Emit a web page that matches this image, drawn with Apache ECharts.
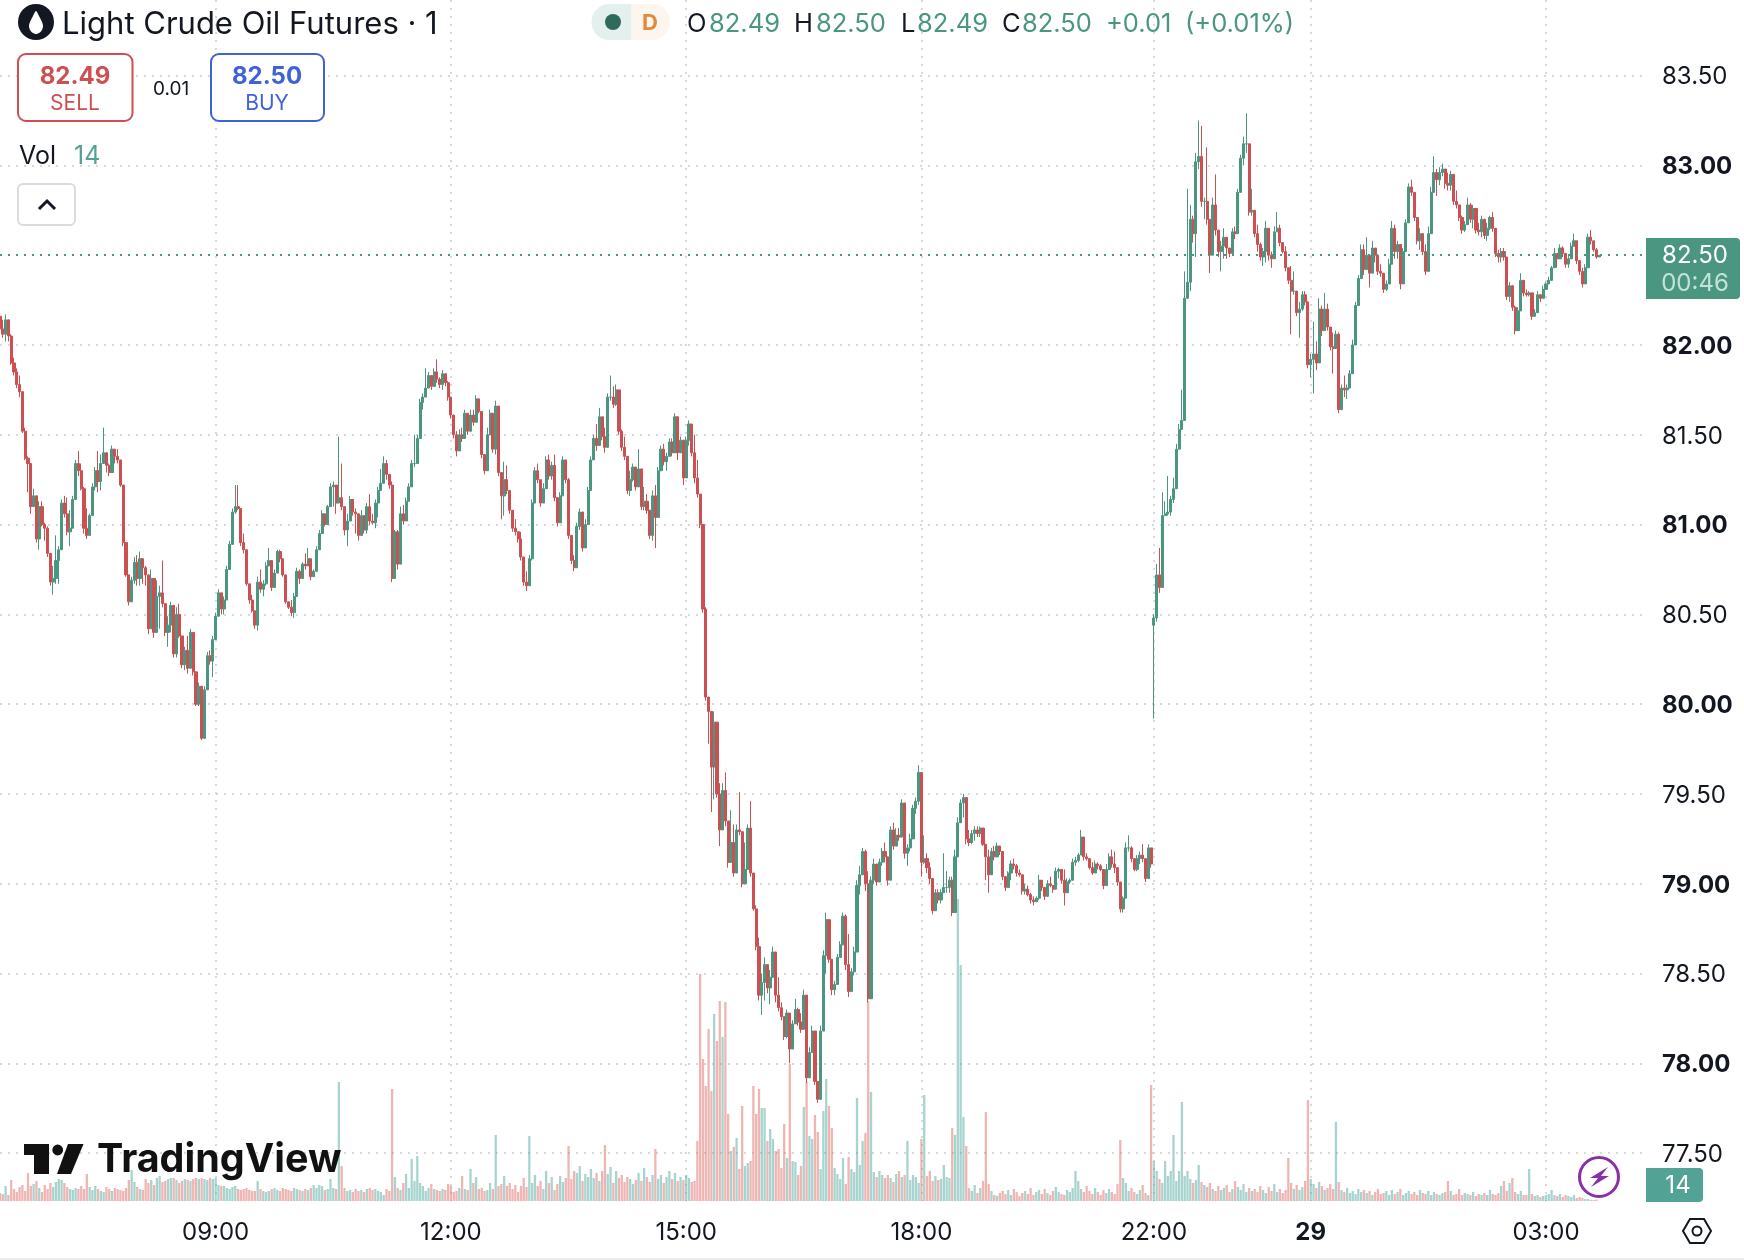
<!DOCTYPE html>
<html><head><meta charset="utf-8">
<script src="https://cdn.jsdelivr.net/npm/echarts@6/dist/echarts.min.js"></script>
<style>html,body{margin:0;padding:0;background:#fff}#c{width:1744px;height:1260px}</style></head>
<body><div id="c"></div>
<script>
const tickLabels=['09:00','12:00','15:00','18:00','22:00','29','03:00'];
const tickBars=[77,161,245,329,412,468,552];
const slotCount=588;
const sessionReopenBar=412, sessionReopenCents=8044;
const highsCents=[
8216,8214,8217,8208,8206,8193,8187,8183,8173,8154,8138,8134,8120,8102,8113,8113,8101,8099,8080,8077,
8094,8088,8114,8116,8115,8108,8116,8136,8141,8134,8121,8109,8106,8123,8132,8141,8139,8154,8139,8134,
8144,8142,8142,8134,8121,8086,8071,8071,8082,8083,8085,8079,8077,8062,8075,8057,8069,8066,8080,8054,
8049,8057,8052,8054,8056,8032,8032,8038,8042,8026,8012,8012,8009,8010,8029,8030,8038,8051,8064,8062,
8060,8077,8091,8109,8122,8122,8101,8095,8079,8066,8061,8052,8071,8075,8069,8079,8087,8073,8075,8086,
8086,8077,8072,8057,8058,8062,8076,8075,8079,8084,8087,8080,8075,8088,8097,8108,8106,8111,8123,8124,
8120,8149,
8134,8110,8106,8116,8113,8109,8106,8108,8102,8112,8117,8106,8114,8121,8131,8138,8136,8128,8124,8097,
8097,8110,8111,8115,8123,8136,8150,8150,8170,8173,8187,8185,8183,8187,8192,8182,8186,8184,8180,8170,
8159,8152,8153,8154,8164,8154,8164,8164,8172,8166,8162,8138,8154,8164,8154,8169,8139,8120,8135,8133,
8117,8107,8103,8094,8096,8080,8074,8083,8114,8132,8134,8125,8123,8138,8139,8135,8139,8112,8118,8138,
8133,8126,8085,8083,8101,8109,8103,8103,8121,8138,8150,8156,8165,8156,8154,8173,8183,8177,8178,8165,
8153,8149,8136,8130,8134,8130,8142,8129,8121,8117,8105,8119,8122,8132,8144,8145,8140,8148,8148,8162,
8159,8149,8140,8149,8158,8146,8150,8136,8115,8098,
8054,
7998,7983,7996,7981,7956,7956,7962,7934,7941,7933,7933,7951,7928,7923,7933,7946,7904,7888,7870,7850,
7859,7850,7852,7865,7854,7848,7834,7825,7830,7824,7824,7836,7831,7828,7841,7813,7809,7821,7800,7789,
7821,7863,7884,7869,7856,7846,7861,7868,7884,7883,7872,7853,7865,7902,7910,7920,7919,7907,7904,7914,
7908,7914,7920,7923,7915,7932,7934,7931,7931,7947,7937,7922,7928,7944,7948,7966,7956,7927,7917,7912,
7901,7897,7897,7897,7917,7907,7904,7904,7919,7937,7947,7950,7938,7930,7930,7932,7932,7932,7926,7921,
7919,7920,7921,7923,7921,7916,7903,7907,7913,7914,7911,7908,7904,7900,7899,7895,7893,7893,7905,7900,
7896,7902,7904,7898,7909,7909,7908,7908,7903,7903,7914,7915,7917,7930,7920,7917,7913,7912,7913,7912,
7911,7904,7911,7917,7919,7918,7907,7900,7893,7923,7927,7921,7911,7916,7918,7922,7908,7922,7914,
8050,8078,8087,8118,8113,8127,8116,8126,8145,8156,8175,8241,8287,8278,8272,8307,8325,8322,8282,8310,
8270,8282,8295,8260,8258,8265,8257,8254,8265,8266,8287,8306,8316,8329,8291,8287,8271,8267,8257,8254,
8269,8262,8252,8266,8274,8267,8256,8255,8240,8244,8241,8228,8224,8230,8230,8223,8195,8213,8202,8226,
8222,8229,8223,8208,8207,8208,8207,8178,8183,8178,8186,8203,8224,8239,8256,8256,8260,8244,8258,8252,
8250,8245,8235,8236,8248,8269,8267,8258,
8248,8254,8270,8290,8292,8285,8268,8265,8261,8256,8266,8288,8305,8298,8299,8301,8297,8296,8297,8291,
8286,8278,8272,8269,8282,8279,8278,8272,8268,8272,8267,8268,8272,8274,8260,8253,8254,8254,8248,8235,
8230,8222,8221,8240,8233,8231,8230,8225,8220,8230,8228,8233,8235,8238,8244,8254,8251,8256,8255,8250,
8250,8257,8262,8254,8246,8243,8245,8262,8264,8256,8254,8250];
const lowsCents=[
8208,8204,8202,8202,8189,8183,8176,8171,8151,8136,8118,8106,8112,8090,8086,8099,8091,8082,8066,8061,
8067,8067,8099,8104,8094,8088,8099,8117,8127,8119,8095,8092,8096,8106,8119,8118,8119,8134,8129,8127,
8136,8134,8134,8121,8088,8071,8055,8062,8067,8066,8066,8067,8066,8039,8056,8037,8047,8042,8054,8038,
8032,8040,8026,8026,8037,8020,8019,8017,8023,8016,7999,7999,7980,7993,8016,8022,8015,8036,8056,8050,
8050,8069,8079,8091,8106,8108,8088,8084,8066,8056,8051,8042,8041,8062,8060,8066,8077,8063,8066,8077,
8079,8071,8056,8053,8049,8048,8062,8067,8074,8075,8079,8069,8071,8077,8090,8101,8099,8106,8114,8110,
8106,8112,
8108,8094,8088,8106,8105,8095,8091,8095,8095,8095,8100,8100,8098,8104,8120,8132,8125,8120,8068,8080,
8075,8093,8100,8106,8114,8124,8132,8139,8155,8164,8173,8179,8175,8180,8179,8176,8175,8177,8169,8159,
8148,8138,8144,8146,8152,8150,8154,8155,8162,8162,8137,8128,8138,8150,8140,8139,8127,8103,8105,8117,
8106,8096,8094,8090,8080,8066,8063,8076,8080,8116,8123,8110,8112,8126,8125,8125,8113,8099,8106,8128,
8123,8092,8078,8074,8090,8097,8085,8090,8103,8121,8138,8141,8150,8147,8140,8160,8169,8165,8166,8150,
8141,8136,8117,8116,8124,8119,8129,8108,8108,8106,8092,8091,8087,8120,8133,8133,8130,8138,8138,8147,
8136,8141,8122,8141,8144,8138,8123,8115,8098,8051,
8002,
7978,7940,7947,7948,7921,7934,7932,7909,7921,7904,7913,7927,7898,7905,7922,7904,7885,7863,7835,7827,
7835,7839,7833,7850,7834,7829,7824,7813,7814,7800,7809,7828,7821,7817,7824,7789,7796,7809,7788,7778,
7792,7828,7850,7856,7838,7838,7854,7859,7869,7852,7837,7846,7849,7869,7894,7908,7896,7834,7882,7900,
7899,7907,7910,7912,7899,7902,7919,7925,7924,7935,7914,7910,7918,7932,7939,7944,7904,7911,7906,7900,
7883,7885,7889,7889,7895,7895,7895,7882,7887,7926,7937,7937,7922,7921,7922,7924,7926,7926,7921,7902,
7895,7911,7913,7916,7916,7902,7896,7903,7902,7908,7904,7904,7894,7894,7893,7889,7888,7890,7891,7896,
7891,7896,7898,7895,7897,7903,7900,7888,7898,7900,7909,7910,7912,7916,7913,7913,7908,7905,7909,7908,
7907,7897,7902,7912,7909,7906,7899,7884,7884,7893,7918,7912,7907,7907,7911,7912,7901,7906,7909,
7992,8046,8062,8078,8105,8105,8105,8112,8125,8149,8156,8181,8228,8230,8257,8249,8298,8277,8270,8267,
8240,8257,8261,8249,8241,8248,8248,8249,8258,8259,8271,8296,8300,8307,8272,8272,8260,8252,8247,8244,
8246,8247,8243,8254,8263,8255,8251,8241,8234,8206,8228,8216,8204,8219,8222,8187,8182,8173,8186,8204,
8205,8213,8208,8197,8184,8199,8162,8167,8171,8170,8178,8189,8204,8222,8237,8239,8247,8232,8246,8246,
8239,8238,8229,8230,8237,8250,8248,8248,
8231,8238,8255,8277,8283,8269,8256,8253,8250,8239,8243,8263,8294,8283,8289,8294,8287,8286,8286,8278,
8276,8269,8262,8263,8269,8268,8265,8262,8261,8260,8259,8258,8264,8263,8249,8246,8246,8247,8225,8224,
8219,8206,8215,8223,8227,8227,8227,8214,8216,8223,8224,8228,8231,8234,8240,8243,8243,8250,8249,8243,
8243,8250,8255,8245,8239,8232,8241,8250,8256,8252,8248,8249];
const closesCents=[
8209,8206,8214,8205,8190,8185,8178,8174,8152,8137,8134,8110,8116,8092,8110,8100,8098,8084,8068,8070,
8080,8086,8112,8106,8096,8098,8114,8134,8130,8120,8098,8094,8105,8121,8130,8124,8134,8140,8133,8129,
8142,8138,8136,8122,8090,8072,8057,8069,8079,8070,8081,8076,8072,8042,8070,8040,8060,8062,8056,8040,
8044,8055,8028,8050,8038,8022,8030,8020,8040,8018,8000,8010,7981,8008,8027,8024,8036,8049,8062,8053,
8058,8075,8089,8107,8110,8109,8090,8086,8067,8058,8052,8044,8068,8064,8067,8077,8080,8065,8073,8085,
8081,8072,8057,8054,8051,8060,8074,8070,8078,8077,8081,8071,8074,8086,8095,8106,8100,8110,8121,8122,
8112,8115,
8110,8097,8102,8114,8107,8106,8094,8105,8097,8110,8102,8101,8112,8119,8123,8134,8128,8122,8070,8096,
8078,8106,8102,8113,8121,8134,8134,8148,8168,8171,8176,8183,8177,8185,8181,8178,8184,8179,8171,8161,
8150,8141,8150,8148,8162,8152,8161,8157,8170,8163,8139,8130,8150,8162,8142,8166,8129,8116,8125,8119,
8108,8098,8096,8092,8082,8068,8066,8081,8112,8130,8125,8112,8120,8136,8127,8133,8115,8101,8116,8136,
8125,8094,8080,8076,8099,8107,8087,8100,8119,8136,8148,8144,8160,8149,8143,8171,8171,8167,8175,8152,
8143,8138,8119,8125,8132,8121,8131,8110,8113,8108,8094,8116,8104,8130,8142,8135,8138,8146,8140,8160,
8140,8147,8126,8147,8156,8140,8126,8117,8100,8053,
8004,
7996,7965,7990,7950,7930,7952,7935,7912,7923,7906,7930,7929,7900,7908,7931,7906,7886,7865,7838,7845,
7855,7842,7848,7862,7838,7831,7826,7815,7828,7808,7822,7830,7823,7819,7838,7792,7806,7818,7790,7780,
7818,7860,7880,7858,7841,7844,7859,7866,7882,7855,7840,7851,7862,7899,7905,7918,7900,7836,7902,7911,
7901,7912,7918,7915,7902,7930,7921,7927,7926,7945,7917,7920,7925,7942,7946,7962,7912,7914,7909,7903,
7885,7895,7891,7895,7898,7898,7902,7884,7915,7934,7945,7948,7925,7923,7928,7930,7928,7931,7922,7915,
7905,7918,7915,7921,7918,7904,7898,7906,7911,7910,7906,7905,7896,7897,7894,7891,7890,7892,7902,7898,
7893,7900,7899,7897,7907,7908,7902,7895,7901,7902,7912,7913,7916,7926,7915,7914,7909,7906,7911,7910,
7908,7899,7908,7915,7911,7909,7901,7886,7892,7920,7920,7914,7908,7914,7916,7914,7903,7920,7911,
8048,8072,8065,8105,8106,8107,8114,8120,8142,8153,8158,8226,8235,8270,8262,8302,8305,8280,8280,8270,
8250,8278,8264,8252,8255,8260,8254,8251,8263,8262,8285,8304,8312,8312,8274,8275,8262,8256,8249,8252,
8265,8250,8248,8263,8265,8257,8252,8243,8236,8230,8230,8218,8220,8228,8224,8189,8192,8195,8190,8220,
8208,8220,8210,8199,8198,8206,8164,8176,8175,8176,8184,8200,8222,8237,8253,8242,8250,8240,8254,8250,
8241,8240,8231,8234,8245,8265,8252,8256,
8234,8252,8268,8288,8285,8271,8258,8262,8252,8241,8262,8285,8296,8292,8296,8298,8290,8289,8295,8280,
8278,8271,8264,8267,8278,8270,8276,8264,8263,8270,8261,8265,8271,8265,8251,8249,8252,8249,8227,8233,
8221,8208,8219,8236,8229,8228,8229,8216,8218,8228,8226,8231,8234,8236,8243,8251,8248,8254,8251,8245,
8248,8255,8258,8247,8241,8234,8243,8260,8258,8253,8249,8250];
const volumes=[
80,70,150,60,210,120,90,140,160,100,280,150,170,200,130,90,160,120,180,140,190,220,210,180,140,120,110,130,120,150,
120,270,140,110,150,120,100,90,140,120,100,130,120,110,100,130,210,310,190,140,120,110,220,180,210,160,230,250,190,200,
220,230,230,210,180,200,220,210,200,220,230,220,230,220,210,230,220,230,160,150,150,130,120,140,150,120,110,120,130,110,
100,100,200,120,100,90,100,120,130,110,100,130,120,110,100,130,120,110,100,120,110,130,160,130,160,150,110,120,220,130,
120,1190,350,130,100,110,90,120,100,110,90,120,130,110,120,100,90,60,120,100,1120,240,130,110,180,270,130,420,200,450,
180,150,100,130,170,120,110,100,120,110,170,150,90,100,130,250,120,110,320,180,240,120,130,100,110,180,120,660,150,
170,250,150,180,120,160,90,150,230,140,650,180,260,150,200,120,300,180,240,110,170,250,190,230,550,220,300,280,350,200,
270,240,320,230,280,200,300,560,270,340,180,300,230,260,190,240,220,170,210,280,200,330,240,190,260,520,220,260,180,240,
300,220,280,200,240,210,260,230,190,200,600,2270,1420,1150,1720,1100,1870,1600,2000,1640,1990,870,500,540,630,320,950,350,380,400,
1150,870,1120,930,930,600,720,620,500,520,330,770,430,1370,400,390,260,350,940,1190,650,620,860,690,320,900,1220,950,730,330,
270,220,430,170,440,320,290,1030,360,600,680,2000,1090,
290,240,300,260,230,260,230,190,270,300,240,260,600,210,260,240,180,620,1060,250,300,200,250,210,220,360,240,230,730,660,
3020,2360,840,550,130,100,160,80,130,200,890,170,100,60,50,80,
100,70,110,60,120,90,50,80,100,70,130,60,90,110,70,120,80,60,100,140,90,70,60,110,90,130,300,200,120,90,150,100,70,130,90,60,
110,80,120,90,70,170,610,230,180,100,130,90,70,110,160,80,60,
1160,400,300,220,180,400,250,300,660,200,300,990,250,300,220,180,210,360,190,160,
140,180,120,100,150,110,130,160,90,120,200,140,110,170,90,130,100,120,90,150,110,80,140,100,170,90,120,80,110,
430,180,120,160,110,140,200,1010,220,170,130,190,150,110,130,170,120,790,190,
110,90,130,80,100,70,120,90,110,80,100,60,90,120,70,80,100,60,110,70,90,120,60,80,100,70,90,60,110,80,70,100,60,90,70,60,80,90,
200,100,60,70,120,60,80,70,60,90,50,70,60,80,60,110,70,60,80,150,200,100,180,230,90,70,100,60,60,320,70,50,60,40,50,60,70,110,60,50,70,40,60,50,40,60,30,40,30,20,20,10,10,14];

const UP='#4a9680',DOWN='#cc4f52',VUP='rgba(82,170,160,.5)',VDOWN='rgba(224,120,116,.55)',INK='#131722',BLUE='#3f62db',FONT='Inter, "Noto Sans", sans-serif';
const opens=closesCents.map((c,i)=> i===0?8216 : i===sessionReopenBar?sessionReopenCents : closesCents[i-1]);
const candleData=closesCents.map((c,i)=>[opens[i]/100,c/100,lowsCents[i]/100,highsCents[i]/100]);
const volData=volumes.map((v,i)=>({value:v,itemStyle:{color:closesCents[i]>=opens[i]?VUP:VDOWN}}));
const categories=Array.from({length:slotCount},()=>'' );
tickBars.forEach((b,k)=>categories[b]=tickLabels[k]);
const dotted={color:'#d8d8d8',width:2,type:[2,6]};
const T=(text,x,y,size,fill,weight,align)=>({type:'text',z:100,style:{text,x,y:y+1.5,fill,font:`${weight||400} ${size}px ${FONT}`,textAlign:align||'left',textVerticalAlign:'middle'}});
const R=(x,y,w,h,r,fill,stroke,lw)=>({type:'rect',z:99,shape:{x,y,width:w,height:h,r},style:{fill:fill||'#fff',stroke:stroke||null,lineWidth:lw||0}});
const ohlc=[['O',687,'82.49',709],['H',794,'82.50',816],['L',901,'82.49',917],['C',1002,'82.50',1022]];
const graphics=[
 {type:'circle',z:99,shape:{cx:36,cy:22,r:18},style:{fill:'#131722'}},
 {type:'polygon',z:100,shape:{smooth:0.3,points:[[36,11],[39,16],[42,22],[43,26],[42,30],[39,33],[36,34],[33,33],[30,30],[29,26],[30,22],[33,16]]},style:{fill:'#fff'}},
 T('Light Crude Oil Futures · 1',62,23,31,INK),
 R(591.5,4,40,36,[18,0,0,18],'#e3f0ed'),R(631.5,4,38.5,36,[0,18,18,0],'#fdf6ee'),
 {type:'circle',z:100,shape:{cx:613,cy:22,r:8},style:{fill:'#2f6b5b'}},
 T('D',650,22,22,'#e08a3c',700,'center'),
 ...ohlc.flatMap(o=>[T(o[0],o[1],22.5,25.5,INK),T(o[2],o[3],22.5,25.5,UP)]),
 T('+0.01',1106,22.5,25.5,UP),T('(+0.01%)',1185,22.5,25.5,UP),
 R(18,54,114.5,67,8,'#fff',DOWN,2),T('82.49',75,75,24,DOWN,700,'center'),T('SELL',75,102,21,DOWN,400,'center'),
 T('0.01',171,88,19,INK,400,'center'),
 R(211,54,113,67,8,'#fff',BLUE,2),T('82.50',267,75,24,BLUE,700,'center'),T('BUY',267,102,21,BLUE,400,'center'),
 T('Vol',19,155,25,INK),T('14',74,155,25,'#53a296'),
 R(18,184,57,41,5,'#fff','#dcdcdc',2),
 {type:'polyline',z:100,shape:{points:[[39,209],[47,201],[55,209]]},style:{stroke:'#131722',lineWidth:3,fill:null}},
 R(1646,238,94,61,[0,4,4,0],UP),T('82.50',1695,254,24,'#fff',400,'center'),T('00:46',1695,282,24,'#c3e3d8',400,'center'),
 R(1646,1168,57,34,[0,4,4,0],'#53a296'),T('14',1678,1184,24,'#fff',400,'center'),
 {type:'circle',z:100,shape:{cx:1599,cy:1177,r:19.5},style:{fill:'#fff',stroke:'#8a2fa8',lineWidth:3}},
 {type:'polygon',z:101,shape:{points:[[1608,1167],[1590,1178],[1598,1178],[1591,1187],[1609,1176],[1601,1176]]},style:{fill:'#8a2fa8'}},
 {type:'polygon',z:100,shape:{points:[[1683,1231],[1690,1219],[1704,1219],[1711,1231],[1704,1243],[1690,1243]]},style:{fill:null,stroke:INK,lineWidth:2}},
 {type:'circle',z:100,shape:{cx:1697,cy:1231,r:4.5},style:{fill:null,stroke:INK,lineWidth:2}},
 {type:'polygon',z:100,shape:{points:[[24,1144],[49,1144],[49,1174],[34,1174],[34,1155],[24,1155]]},style:{fill:'#111'}},
 {type:'circle',z:100,shape:{cx:57.7,cy:1150,r:5.4},style:{fill:'#111'}},
 {type:'polygon',z:100,shape:{points:[[68,1144],[83.5,1144],[71,1174],[57,1174]]},style:{fill:'#111'}},
 T('TradingView',97,1159,39.5,'#111',700),
 R(0,1258,1744,2,0,'#ececec'),
];
const chart=echarts.init(document.getElementById('c'),null,{width:1744,height:1260});
chart.setOption({
 animation:false,backgroundColor:'#fff',
 grid:[{left:0,top:75.6,width:1644,height:1077.6},{left:0,top:0,width:1644,height:1201}],
 xAxis:[
  {gridIndex:0,type:'category',data:categories,boundaryGap:false,show:false},
  {gridIndex:1,type:'category',data:categories,boundaryGap:false,
   axisLine:{show:false},axisTick:{show:false},
   axisLabel:{interval:(i,v)=>v!=='',margin:20,fontFamily:FONT,fontSize:24,color:INK,
     formatter:v=>v==='29'?'{b|29}':v,rich:{b:{fontFamily:FONT,fontSize:24,fontWeight:700,color:INK}}},
   splitLine:{show:true,interval:(i,v)=>v!=='',lineStyle:dotted}}
 ],
 yAxis:[
  {gridIndex:0,type:'value',position:'right',min:77.5,max:83.5,interval:0.5,
   axisLine:{show:false},axisTick:{show:false},
   axisLabel:{margin:18,padding:[3,0,0,0],fontFamily:FONT,fontSize:24,color:INK,
     formatter:v=>Number.isInteger(v)?`{b|${v.toFixed(2)}}`:v.toFixed(2),
     rich:{b:{fontFamily:FONT,fontSize:24,fontWeight:700,color:INK}}},
   splitLine:{show:true,lineStyle:dotted}},
  {gridIndex:1,type:'value',min:0,max:12010,show:false,splitLine:{show:false}}
 ],
 series:[
  {type:'bar',xAxisIndex:1,yAxisIndex:1,data:volData,barWidth:2.3,z:1,silent:true},
  {type:'candlestick',xAxisIndex:0,yAxisIndex:0,data:candleData,barWidth:2.6,z:2,silent:true,
   itemStyle:{color:UP,color0:DOWN,borderColor:UP,borderColor0:DOWN,borderWidth:1},
   markLine:{silent:true,symbol:'none',animation:false,label:{show:false},
     lineStyle:{color:UP,width:2,type:[2,6],opacity:1},data:[{yAxis:82.5}]}}
 ],
 graphic:{elements:graphics}
});
</script></body></html>
